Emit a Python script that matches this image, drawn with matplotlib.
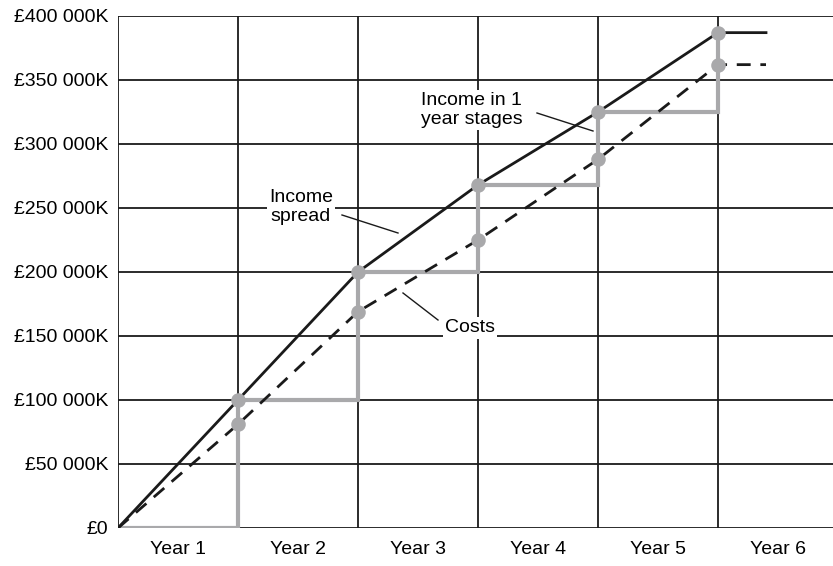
import matplotlib
matplotlib.use("Agg")
import matplotlib.pyplot as plt

plt.rcParams['font.family'] = ['Liberation Sans', 'DejaVu Sans']

# values in thousands of pounds, at the end of each year
years = [0, 1, 2, 3, 4, 5]
income = [0, 100, 200, 268, 325, 387]
costs = [0, 81, 169, 225, 288, 362]
tail_end = 5.4

year_labels = ['Year 1', 'Year 2', 'Year 3', 'Year 4', 'Year 5', 'Year 6']
y_ticks = [0, 50, 100, 150, 200, 250, 300, 350, 400]
y_labels = ['£0', '£50 000K', '£100 000K', '£150 000K', '£200 000K',
            '£250 000K', '£300 000K', '£350 000K', '£400 000K']

black = '#1a1a1a'
grey = '#a9a9ab'
fs = 14

fig = plt.figure(figsize=(8.33, 5.66), dpi=100)
ax = fig.add_axes([118 / 833, 1 - 528 / 566, 1 - 118 / 833, 512 / 566])
ax.set_xlim(0, 715 / 120)
ax.set_ylim(0, 400)

# grid
for y in y_ticks:
    ax.axhline(y, color=black, lw=1.3, zorder=1)
for x in years:
    ax.axvline(x, color=black, lw=1.3, zorder=1)

# income in 1 year stages (grey staircase)
sx, sy = [0], [0]
for i in range(1, len(years)):
    sx += [years[i], years[i]]
    sy += [income[i - 1], income[i]]
ax.plot(sx, sy, color=grey, lw=3, zorder=2, solid_joinstyle='miter')

ax.plot(years + [tail_end], income + [income[-1]], color=black, lw=2, zorder=3)
ax.plot(years + [tail_end], costs + [costs[-1]], color=black, lw=2,
        ls=(0, (5, 3.5)), zorder=3)

ax.scatter(years[1:], income[1:], s=110, color=grey, zorder=4, lw=0)
ax.scatter(years[1:], costs[1:], s=110, color=grey, zorder=4, lw=0)

ax.set_yticks(y_ticks)
ax.set_yticklabels(y_labels, fontsize=fs)
ax.set_xticks([x + 0.5 for x in years])
ax.set_xticklabels(year_labels, fontsize=fs)
ax.tick_params(length=0, pad=7)
ax.tick_params(axis='x', pad=9)
for s in ax.spines.values():
    s.set_visible(False)


def px(x, y):
    return ((x - 118) / 120, (528 - y) / 1.28)


box = dict(facecolor='white', edgecolor='none', pad=1.5)
ax.text(*px(301, 207), 'Income\nspread', fontsize=fs, ha='center', va='center',
        linespacing=1.1, bbox=box, zorder=5)
ax.plot(*zip(px(342, 215), px(398, 233)), color=black, lw=1, zorder=5)

ax.text(*px(470, 328), 'Costs', fontsize=fs, ha='center', va='center',
        bbox=box, zorder=5)
ax.plot(*zip(px(403, 293), px(438, 320)), color=black, lw=1, zorder=5)

ax.text(*px(421, 110), 'Income in 1\nyear stages', fontsize=fs, ha='left',
        va='center', linespacing=1.1, bbox=box, zorder=5)
ax.plot(*zip(px(537, 113), px(593, 131)), color=black, lw=1, zorder=5)

fig.savefig('out.png', dpi=100)
